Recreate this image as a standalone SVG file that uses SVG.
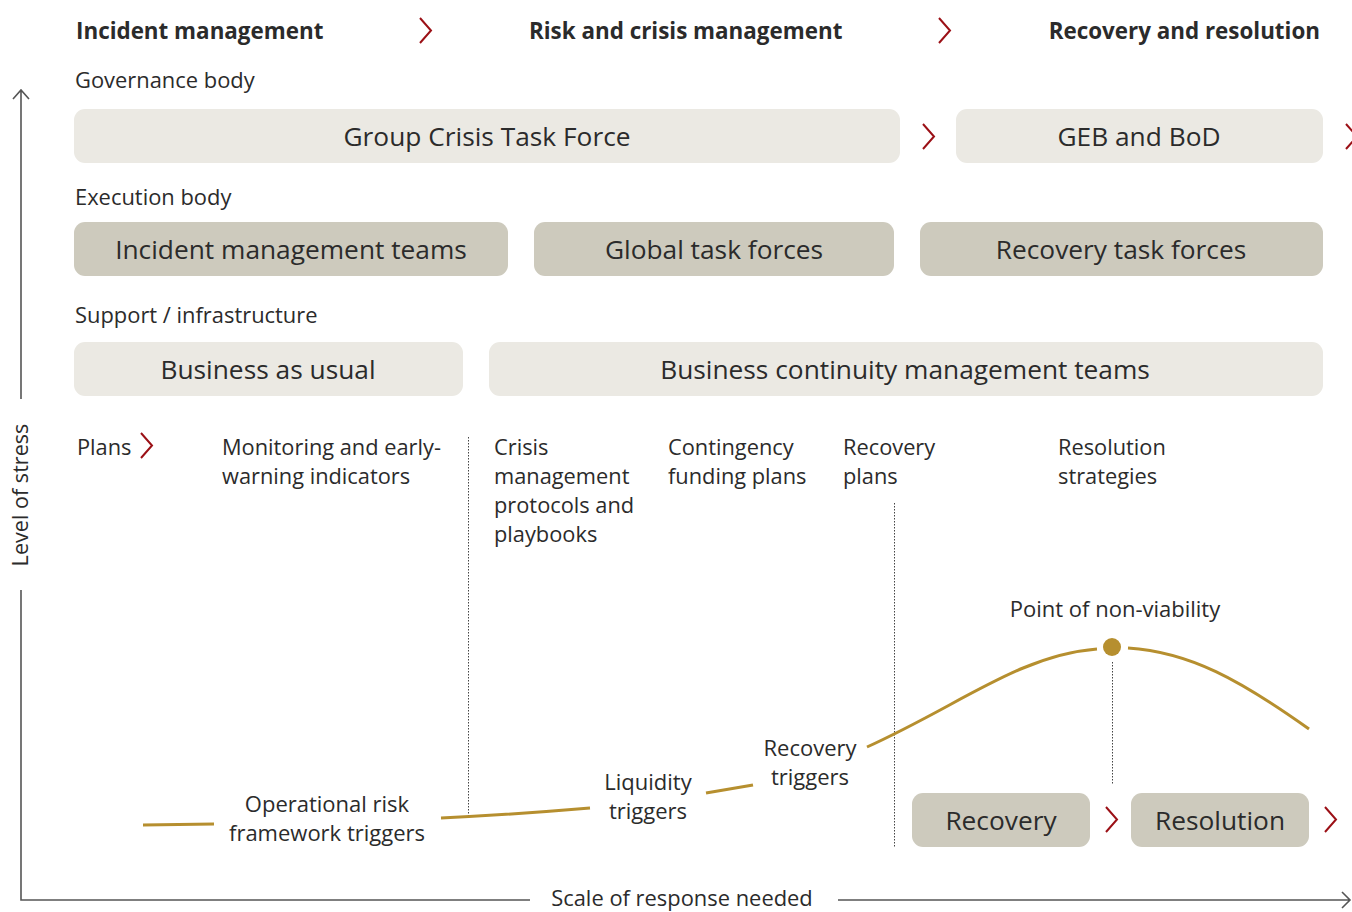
<svg xmlns="http://www.w3.org/2000/svg" width="1352" height="912" viewBox="0 0 1352 912">
  <style>
    text { font-family: "Open Sans", "Noto Sans", "Liberation Sans", sans-serif; fill: #2b2b2b; }
    .head { font-size: 22.4px; font-weight: 700; }
    .sect { font-size: 21.9px; }
    .box-t { font-size: 26.3px; text-anchor: middle; }
    .plan { font-size: 21.8px; }
    .lbl { font-size: 22px; text-anchor: middle; }
    .light { fill: #ebe9e3; }
    .dark { fill: #cdcabd; }
    .chev { fill: none; stroke: #9b1016; stroke-width: 2; }
    .axis { fill: none; stroke: #555; stroke-width: 1.6; }
    .dot-line { fill: none; stroke: #444; stroke-width: 1; stroke-dasharray: 1.5 1.5; }
    .curve { fill: none; stroke: #b68f2f; stroke-width: 3; }
  </style>
  <defs>
    <path id="chevron" d="M0,0 L11,12.5 L0,25" class="chev"/>
  </defs>

  <!-- phase headings -->
  <g id="phases">
    <text class="head" x="76" y="39">Incident management</text>
    <use href="#chevron" x="420" y="18"/>
    <text class="head" x="529" y="39">Risk and crisis management</text>
    <use href="#chevron" x="939" y="18"/>
    <text class="head" x="1320" y="39" text-anchor="end">Recovery and resolution</text>
  </g>

  <!-- axes -->
  <g id="axes">
    <path class="axis" d="M21,399 V90 M13,99 L21,90 L29,99"/>
    <path class="axis" d="M21,590 V900 H530"/>
    <path class="axis" d="M838,900 H1350 M1342,892 L1350,900 L1342,908"/>
    <text class="sect" transform="translate(28,495) rotate(-90)" text-anchor="middle" style="font-size:21.6px">Level of stress</text>
    <text class="sect" x="682" y="906" text-anchor="middle">Scale of response needed</text>
  </g>

  <!-- governance -->
  <g id="governance">
    <text class="sect" x="75" y="88">Governance body</text>
    <g id="group-crisis-task-force">
      <rect class="light" x="74" y="109" width="826" height="54" rx="11"/>
      <text class="box-t" x="487" y="146">Group Crisis Task Force</text>
    </g>
    <use href="#chevron" x="923" y="124"/>
    <g id="geb-bod">
      <rect class="light" x="956" y="109" width="367" height="54" rx="11"/>
      <text class="box-t" x="1139" y="146">GEB and BoD</text>
    </g>
    <use href="#chevron" x="1346" y="124"/>
  </g>

  <!-- execution -->
  <g id="execution">
    <text class="sect" x="75" y="205">Execution body</text>
    <g id="incident-teams">
      <rect class="dark" x="74" y="222" width="434" height="54" rx="11"/>
      <text class="box-t" x="291" y="259">Incident management teams</text>
    </g>
    <g id="global-task-forces">
      <rect class="dark" x="534" y="222" width="360" height="54" rx="11"/>
      <text class="box-t" x="714" y="259">Global task forces</text>
    </g>
    <g id="recovery-task-forces">
      <rect class="dark" x="920" y="222" width="403" height="54" rx="11"/>
      <text class="box-t" x="1121" y="259">Recovery task forces</text>
    </g>
  </g>

  <!-- support -->
  <g id="support">
    <text class="sect" x="75" y="323">Support / infrastructure</text>
    <g id="business-as-usual">
      <rect class="light" x="74" y="342" width="389" height="54" rx="11"/>
      <text class="box-t" x="268" y="379">Business as usual</text>
    </g>
    <g id="bcm-teams">
      <rect class="light" x="489" y="342" width="834" height="54" rx="11"/>
      <text class="box-t" x="905" y="379">Business continuity management teams</text>
    </g>
  </g>

  <!-- plans -->
  <g id="plans">
    <text class="plan" x="77" y="455">Plans</text>
    <use href="#chevron" x="141" y="433"/>
    <text class="plan" x="222" y="455">Monitoring and early-<tspan x="222" dy="29">warning indicators</tspan></text>
    <text class="plan" x="494" y="455">Crisis<tspan x="494" dy="29">management</tspan><tspan x="494" dy="29">protocols and</tspan><tspan x="494" dy="29">playbooks</tspan></text>
    <text class="plan" x="668" y="455">Contingency<tspan x="668" dy="29">funding plans</tspan></text>
    <text class="plan" x="843" y="455">Recovery<tspan x="843" dy="29">plans</tspan></text>
    <text class="plan" x="1058" y="455">Resolution<tspan x="1058" dy="29">strategies</tspan></text>
  </g>

  <!-- stress curve and trigger labels -->
  <g id="connectors">
    <path class="dot-line" d="M468.5,437 V818"/>
    <path class="dot-line" d="M894.5,503 V848"/>
    <path class="dot-line" d="M1112.5,662 V785"/>
    <path class="curve" d="M143,825 L214,824"/>
    <path class="curve" d="M441,818 Q520,814 590,808"/>
    <path class="curve" d="M706,793 L753,785"/>
    <path class="curve" d="M867,747 C960,705 1020,655 1097,649"/>
    <path class="curve" d="M1128,648 C1190,652 1240,680 1309,729"/>
    <circle cx="1112" cy="647" r="9" fill="#b68f2f"/>
  </g>

  <g id="triggers">
    <text class="lbl" x="327" y="812">Operational risk<tspan x="327" dy="29">framework triggers</tspan></text>
    <text class="lbl" x="648" y="790">Liquidity<tspan x="648" dy="29">triggers</tspan></text>
    <text class="lbl" x="810" y="756">Recovery<tspan x="810" dy="29">triggers</tspan></text>
    <text class="lbl" x="1115" y="617">Point of non-viability</text>
  </g>

  <!-- outcomes -->
  <g id="outcomes">
    <g id="recovery">
      <rect class="dark" x="912" y="793" width="178" height="54" rx="11"/>
      <text class="box-t" x="1001" y="830">Recovery</text>
    </g>
    <use href="#chevron" x="1106" y="807"/>
    <g id="resolution">
      <rect class="dark" x="1131" y="793" width="178" height="54" rx="11"/>
      <text class="box-t" x="1220" y="830">Resolution</text>
    </g>
    <use href="#chevron" x="1325" y="807"/>
  </g>
</svg>
